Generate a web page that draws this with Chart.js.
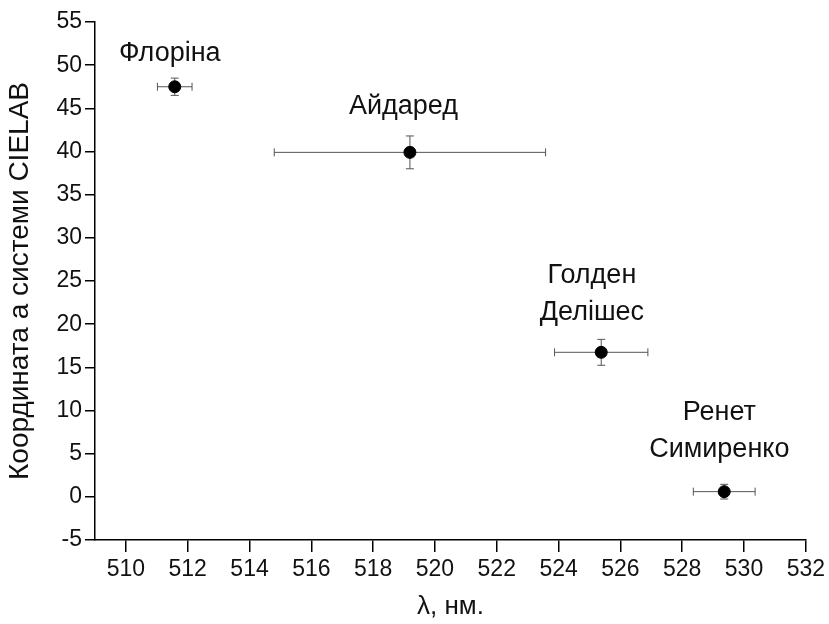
<!DOCTYPE html>
<html>
<head>
<meta charset="utf-8">
<script src="https://cdn.jsdelivr.net/npm/chart.js@4"></script>
<style>
  html, body { margin: 0; padding: 0; background: #fff; }
  #wrap { width: 829px; height: 624px; }
</style>
</head>
<body>
<div id="wrap"><canvas id="c" width="829" height="624"></canvas></div>
<script>
// apple varieties: wavelength vs CIELAB coordinate, with error bars

const VARIETIES = [['Флоріна'], ['Айдаред'], ['Голден', 'Делішес'], ['Ренет', 'Симиренко']];
const LAMBDA = [511.58, 519.19, 525.38, 529.36];
const LAMBDA_ERR = [0.56, 4.39, 1.51, 1.0];
const COORD = [47.5, 39.9, 16.74, 0.6];
const COORD_ERR = [1.0, 1.9, 1.5, 0.85];
const X_TICKS = [510, 512, 514, 516, 518, 520, 522, 524, 526, 528, 530, 532];

// where each variety name sits (centre of the text block, data units)
const NAME_AT_X = [511.42, 518.98, 525.08, 529.2];
const NAME_AT_Y = [51.3, 45.2, 23.5, 7.6];

const FONT = 'Liberation Sans, Arial, sans-serif';

const errorBars = {
  id: 'errorBars',
  beforeDatasetsDraw(chart) {
    const { ctx, scales: { x, y } } = chart;
    const cap = 4;
    ctx.save();
    ctx.strokeStyle = '#555';
    ctx.lineWidth = 1;
    LAMBDA.forEach((lx, i) => {
      const px = x.getPixelForValue(lx);
      const py = y.getPixelForValue(COORD[i]);
      const x0 = x.getPixelForValue(lx - LAMBDA_ERR[i]);
      const x1 = x.getPixelForValue(lx + LAMBDA_ERR[i]);
      const y0 = y.getPixelForValue(COORD[i] - COORD_ERR[i]);
      const y1 = y.getPixelForValue(COORD[i] + COORD_ERR[i]);
      ctx.beginPath();
      ctx.moveTo(x0, py); ctx.lineTo(x1, py);
      ctx.moveTo(x0, py - cap); ctx.lineTo(x0, py + cap);
      ctx.moveTo(x1, py - cap); ctx.lineTo(x1, py + cap);
      ctx.moveTo(px, y0); ctx.lineTo(px, y1);
      ctx.moveTo(px - cap, y0); ctx.lineTo(px + cap, y0);
      ctx.moveTo(px - cap, y1); ctx.lineTo(px + cap, y1);
      ctx.stroke();
    });
    ctx.restore();
  },
  afterDraw(chart) {
    const { ctx, scales: { x, y } } = chart;
    const lineH = 37;
    ctx.save();
    ctx.fillStyle = '#111';
    ctx.font = '27px ' + FONT;
    ctx.textAlign = 'center';
    ctx.textBaseline = 'middle';
    VARIETIES.forEach((lines, i) => {
      const cx = x.getPixelForValue(NAME_AT_X[i]);
      const cy = y.getPixelForValue(NAME_AT_Y[i]);
      const top = cy - (lines.length - 1) * lineH / 2;
      lines.forEach((t, k) => ctx.fillText(t, cx, top + k * lineH));
    });
    ctx.restore();
  }
};

new Chart(document.getElementById('c').getContext('2d'), {
  type: 'scatter',
  data: {
    datasets: [{
      data: LAMBDA.map((v, i) => ({ x: v, y: COORD[i] })),
      backgroundColor: '#000',
      borderColor: '#000',
      pointRadius: 6,
      pointHoverRadius: 6
    }]
  },
  options: {
    responsive: false,
    animation: false,
    layout: { padding: { top: 22, right: 21, bottom: 0, left: 0 } },
    plugins: { legend: { display: false }, tooltip: { enabled: false } },
    scales: {
      x: {
        type: 'linear',
        min: 509,
        max: 532,
        afterBuildTicks: s => { s.ticks = X_TICKS.map(v => ({ value: v })); },
        afterFit: s => { s.height = 84; },
        border: { display: true, color: '#000', width: 1.5 },
        grid: { drawOnChartArea: false, color: '#000', lineWidth: 1.5, tickLength: 12 },
        ticks: { color: '#111', font: { family: FONT, size: 23 }, padding: 4, maxRotation: 0 },
        title: { display: true, text: 'λ, нм.', color: '#111', font: { family: FONT, size: 26 }, padding: { top: 0, bottom: 2 } }
      },
      y: {
        min: -5,
        max: 55,
        afterFit: s => { s.width = 95; },
        border: { display: true, color: '#000', width: 1.5 },
        grid: { drawOnChartArea: false, color: '#000', lineWidth: 1.5, tickLength: 10 },
        ticks: { stepSize: 5, color: '#111', font: { family: FONT, size: 23 }, padding: 3 },
        title: { display: true, text: 'Координата а системи CIELAB', color: '#111', font: { family: FONT, size: 28 }, padding: { top: 3, bottom: 0 } }
      }
    }
  },
  plugins: [errorBars]
});
</script>
</body>
</html>
